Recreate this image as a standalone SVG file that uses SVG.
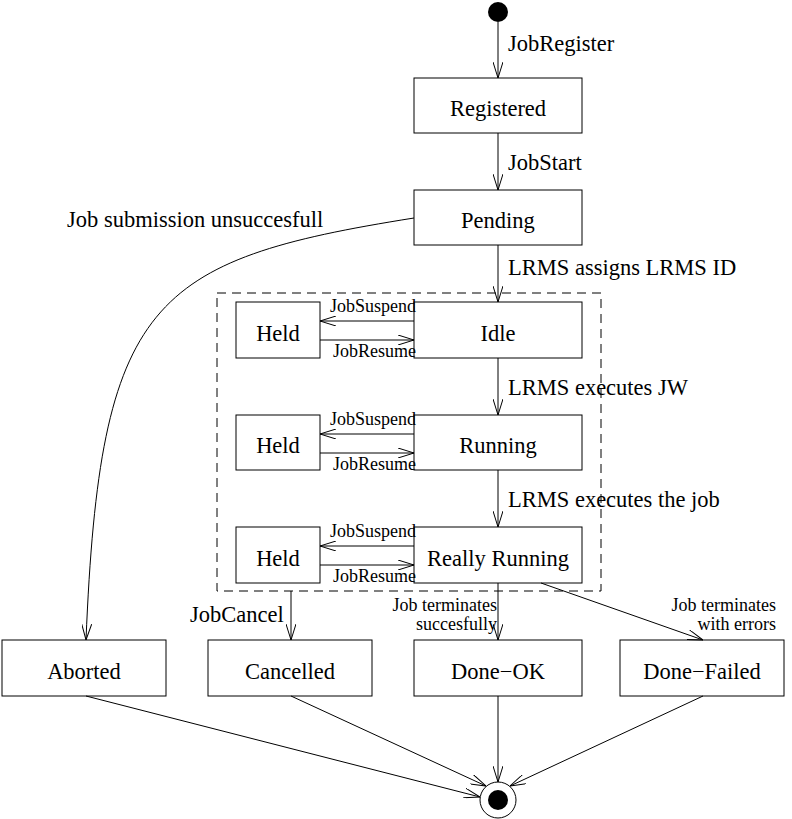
<svg xmlns="http://www.w3.org/2000/svg" width="792" height="819" viewBox="0 0 792 819">
<style>
.box{fill:#fff;stroke:#000;stroke-width:1}
.t{font-family:"Liberation Serif","Times New Roman",serif;font-size:22.5px;fill:#000}
.c{text-anchor:middle}
.s{font-family:"Liberation Serif","Times New Roman",serif;font-size:18px;fill:#000}
.e{text-anchor:end}
.ln{fill:none;stroke:#000;stroke-width:1}
</style>
<defs>
<marker id="a" viewBox="0 0 16 10" refX="16" refY="5" markerWidth="16" markerHeight="10" markerUnits="userSpaceOnUse" orient="auto">
<path d="M0,0 L16,5 L0,10" fill="none" stroke="#000" stroke-width="1"/>
</marker>
</defs>
<rect x="0" y="0" width="792" height="819" fill="#fff"/>
<g id="container">
<rect x="217" y="293" width="384" height="298" fill="none" stroke="#000" stroke-width="1" stroke-dasharray="9,6"/>
</g>
<g id="start"><circle cx="498" cy="12" r="10" fill="#000"/></g>
<g id="registered"><rect class="box" x="414" y="78" width="168" height="55"/><text class="t c" x="498" y="116">Registered</text></g>
<g id="pending"><rect class="box" x="414" y="190" width="168" height="55"/><text class="t c" x="498" y="228">Pending</text></g>
<g id="idle"><rect class="box" x="414" y="302" width="168" height="56"/><text class="t c" x="498" y="341">Idle</text></g>
<g id="held1"><rect class="box" x="236" y="302" width="84" height="56"/><text class="t c" x="278" y="341">Held</text></g>
<g id="running"><rect class="box" x="414" y="415" width="168" height="55"/><text class="t c" x="498" y="453">Running</text></g>
<g id="held2"><rect class="box" x="236" y="415" width="84" height="55"/><text class="t c" x="278" y="453">Held</text></g>
<g id="reallyrunning"><rect class="box" x="414" y="527" width="168" height="56"/><text class="t c" x="498" y="566">Really Running</text></g>
<g id="held3"><rect class="box" x="236" y="527" width="84" height="56"/><text class="t c" x="278" y="566">Held</text></g>
<g id="aborted"><rect class="box" x="2" y="640" width="164" height="56"/><text class="t c" x="84" y="679">Aborted</text></g>
<g id="cancelled"><rect class="box" x="208" y="640" width="164" height="56"/><text class="t c" x="290" y="679">Cancelled</text></g>
<g id="doneok"><rect class="box" x="414" y="640" width="168" height="56"/><text class="t c" x="498" y="679">Done−OK</text></g>
<g id="donefailed"><rect class="box" x="620" y="640" width="164" height="56"/><text class="t c" x="702" y="679">Done−Failed</text></g>
<g id="end"><circle cx="498" cy="800" r="18" fill="#fff" stroke="#000" stroke-width="1"/><circle cx="498" cy="800" r="10" fill="#000"/></g>
<g id="connectors">
<line class="ln" x1="498" y1="22" x2="498" y2="78" marker-end="url(#a)"/>
<text class="t" x="508" y="51">JobRegister</text>
<line class="ln" x1="498" y1="133" x2="498" y2="190" marker-end="url(#a)"/>
<text class="t" x="508" y="170">JobStart</text>
<line class="ln" x1="498" y1="245" x2="498" y2="302" marker-end="url(#a)"/>
<text class="t" x="508" y="275">LRMS assigns LRMS ID</text>
<line class="ln" x1="498" y1="358" x2="498" y2="415" marker-end="url(#a)"/>
<text class="t" x="508" y="395">LRMS executes JW</text>
<line class="ln" x1="498" y1="470" x2="498" y2="527" marker-end="url(#a)"/>
<text class="t" x="508" y="507">LRMS executes the job</text>

<line class="ln" x1="414" y1="321" x2="320" y2="321" marker-end="url(#a)"/>
<line class="ln" x1="320" y1="340" x2="414" y2="340" marker-end="url(#a)"/>
<text class="s e" x="416" y="312">JobSuspend</text>
<text class="s e" x="416" y="357">JobResume</text>
<line class="ln" x1="414" y1="434" x2="320" y2="434" marker-end="url(#a)"/>
<line class="ln" x1="320" y1="453" x2="414" y2="453" marker-end="url(#a)"/>
<text class="s e" x="416" y="425">JobSuspend</text>
<text class="s e" x="416" y="470">JobResume</text>
<line class="ln" x1="414" y1="546" x2="320" y2="546" marker-end="url(#a)"/>
<line class="ln" x1="320" y1="565" x2="414" y2="565" marker-end="url(#a)"/>
<text class="s e" x="416" y="537">JobSuspend</text>
<text class="s e" x="416" y="582">JobResume</text>

<path class="ln" d="M414,218 C150,260 100,300 86,640" marker-end="url(#a)"/>
<text class="t" x="67" y="227">Job submission unsuccesfull</text>

<line class="ln" x1="291" y1="591" x2="291" y2="640" marker-end="url(#a)"/>
<text class="t" x="190" y="622">JobCancel</text>

<line class="ln" x1="498" y1="583" x2="498" y2="640" marker-end="url(#a)"/>
<text class="s e" x="497" y="611">Job terminates</text>
<text class="s e" x="497" y="630">succesfully</text>
<line class="ln" x1="541" y1="583" x2="703" y2="640" marker-end="url(#a)"/>
<text class="s e" x="776" y="611">Job terminates</text>
<text class="s e" x="776" y="630">with errors</text>

<line class="ln" x1="86" y1="696" x2="480" y2="797" marker-end="url(#a)"/>
<line class="ln" x1="291" y1="696" x2="486" y2="786" marker-end="url(#a)"/>
<line class="ln" x1="498" y1="696" x2="498" y2="782" marker-end="url(#a)"/>
<line class="ln" x1="703" y1="696" x2="510" y2="786" marker-end="url(#a)"/>
</g>
</svg>
